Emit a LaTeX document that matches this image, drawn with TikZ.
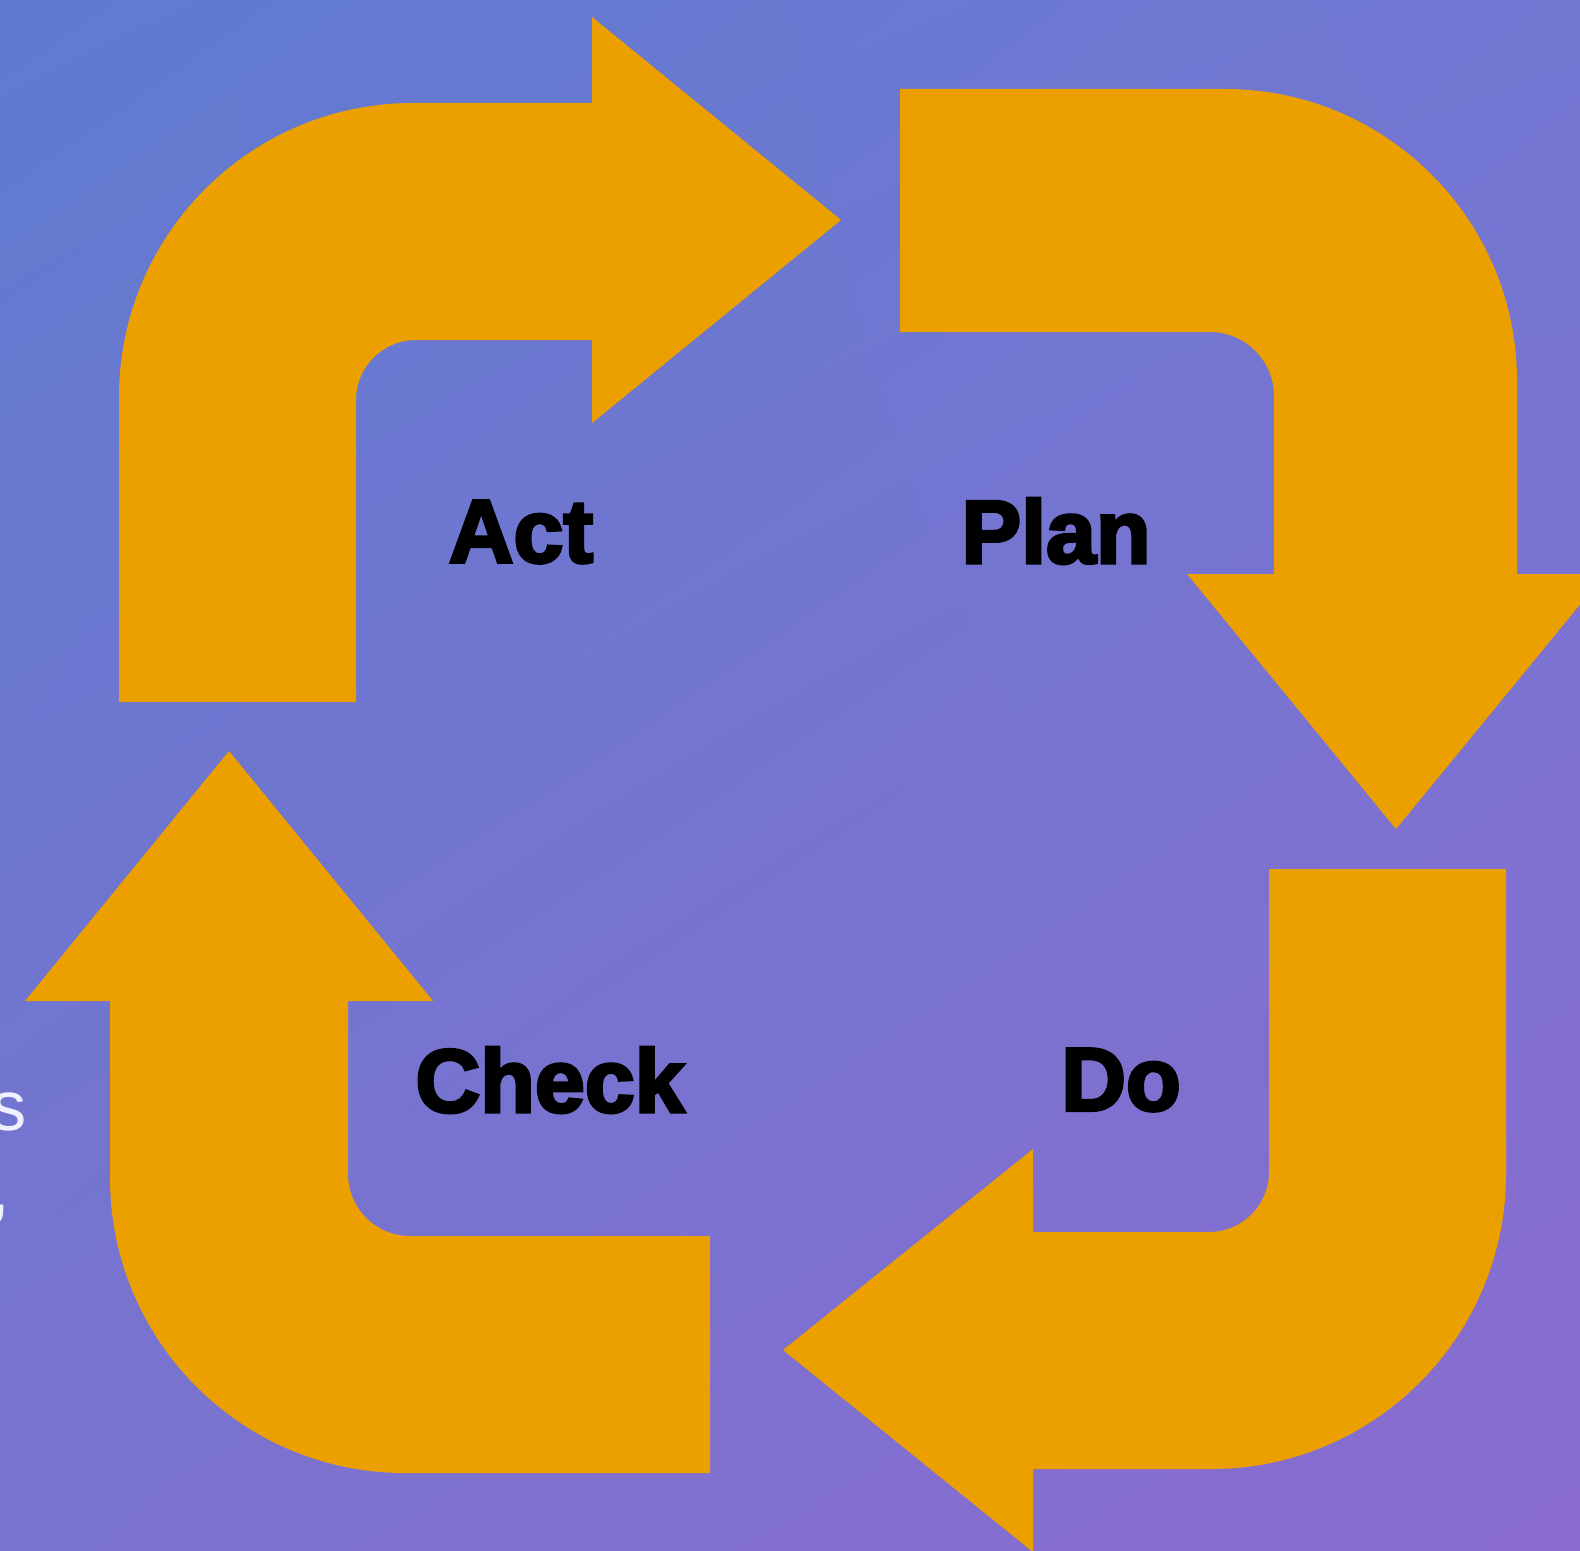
\documentclass[tikz,border=0pt]{standalone}
\usepackage{fontspec}
\setmainfont{Liberation Sans}[BoldFeatures={FakeBold=3.5}]
\usepackage{tikz}
\usetikzlibrary{shadings}
\definecolor{bgtl}{HTML}{5E7BCF}
\definecolor{bgtr}{HTML}{7277D2}
\definecolor{bgbl}{HTML}{7A73D0}
\definecolor{bgbr}{HTML}{8A6BD0}
\definecolor{cycleorange}{HTML}{EBA000}
\tikzstyle{bigarrow} = [fill=cycleorange, draw=none]
\tikzstyle{phase} = [font=\fontsize{25.5}{30}\selectfont\bfseries, text=black, inner sep=0pt]
\tikzstyle{cutoff} = [font=\fontsize{20}{24}\selectfont, text=white!94!blue, inner sep=0pt]

\begin{document}
\begin{tikzpicture}[x=0.01cm, y=0.01cm]
        \useasboundingbox (0,0) rectangle (1580,1550);
        \clip (0,0) rectangle (1580,1550);
        \shade [upper left=bgtl, upper right=bgtr, lower left=bgbl, lower right=bgbr] (0,0) rectangle (1580,1550);
        % Act
        \fill [bigarrow] (119,848) -- (119,1153) arc[start angle=180, end angle=90, radius=294]
            -- (592,1447) -- (592,1533) -- (841,1330) -- (592,1127) -- (592,1210) -- (416,1210)
            arc[start angle=90, end angle=180, radius=60] -- (356,848) -- cycle;
        % Plan
        \fill [bigarrow] (900,1461) -- (1225,1461) arc[start angle=90, end angle=0, radius=292]
            -- (1517,976) -- (1605,976) -- (1396,721) -- (1187,976) -- (1274,976) -- (1274,1154)
            arc[start angle=0, end angle=90, radius=64] -- (900,1218) -- cycle;
        % Do
        \fill [bigarrow] (1269,681) -- (1506,681) -- (1506,376) arc[start angle=0, end angle=-90, radius=295]
            -- (1033,81) -- (1033,-2) -- (783,200) -- (1033,401) -- (1033,318) -- (1209,318)
            arc[start angle=-90, end angle=0, radius=60] -- cycle;
        % Check
        \fill [bigarrow] (710,314) -- (710,77) -- (405,77) arc[start angle=270, end angle=180, radius=295]
            -- (110,549) -- (25,549) -- (229,799) -- (433,549) -- (348,549) -- (348,376)
            arc[start angle=180, end angle=270, radius=62] -- cycle;
        \node (act) [phase] at (521,1018) {Act};
        \node (plan) [phase] at (1056,1019) {Plan};
        \node (check) [phase] at (550,470) {Check};
        \node (do) [phase] at (1121,470) {Do};
        \node (cuts) [cutoff, anchor=base east] at (27,420) {s};
        \node (cutcomma) [cutoff, anchor=base east] at (11,338) {,};
    \end{tikzpicture}
\end{document}
